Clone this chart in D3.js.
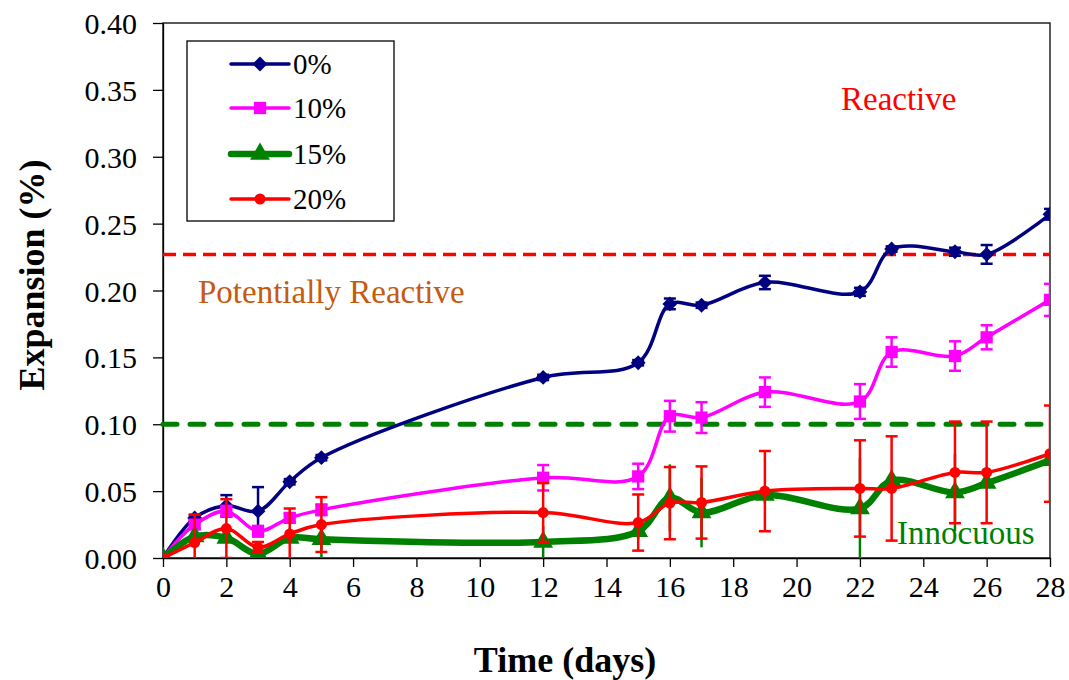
<!DOCTYPE html>
<html>
<head>
<meta charset="utf-8">
<script src="https://cdn.jsdelivr.net/npm/d3@7"></script>
<style>
  html, body { margin: 0; padding: 0; background: #fff; }
  svg { display: block; font-family: "Liberation Serif", "Times New Roman", serif; }
</style>
</head>
<body>
<svg id="chart" width="1069" height="680"></svg>
<script>
// Measurement ages (days)
const days = [0, 1, 2, 3, 4, 5, 12, 15, 16, 17, 19, 22, 23, 25, 26, 28];

// Mean expansion (%) per replacement level, with standard deviation
const exp0  = [0, 0.030, 0.039, 0.035, 0.057, 0.075, 0.135, 0.146, 0.190, 0.189, 0.206, 0.199, 0.231, 0.229, 0.227, 0.257];
const err0  = [0, 0.002, 0.008, 0.018, 0.002, 0.002, 0.002, 0.002, 0.004, 0.002, 0.005, 0.003, 0.002, 0.003, 0.007, 0.004];
const exp10 = [0, 0.025, 0.035, 0.020, 0.030, 0.036, 0.060, 0.061, 0.106, 0.105, 0.124, 0.117, 0.154, 0.151, 0.165, 0.193];
const err10 = [0, 0.003, 0.004, 0.004, 0.003, 0.004, 0.0095, 0.0095, 0.0115, 0.0115, 0.011, 0.013, 0.011, 0.011, 0.009, 0.012];
const exp15 = [0, 0.016, 0.015, 0.003, 0.015, 0.014, 0.012, 0.020, 0.045, 0.034, 0.047, 0.037, 0.058, 0.049, 0.056, 0.073];
const err15 = [0, 0.003, 0.004, 0.003, 0.003, 0.014, 0.012, 0.006, 0.025, 0.026, 0.006, 0.038, 0.004, 0.029, 0.004, 0.004];
const exp20 = [0, 0.0115, 0.022, 0.008, 0.018, 0.025, 0.034, 0.0265, 0.041, 0.0415, 0.050, 0.052, 0.052, 0.064, 0.064, 0.078];
const err20 = [0, 0.021, 0.022, 0.004, 0.019, 0.0205, 0.022, 0.021, 0.027, 0.027, 0.030, 0.036, 0.039, 0.038, 0.038, 0.036];

const seriesNames = ["0%", "10%", "15%", "20%"];
const xTicks = [0, 2, 4, 6, 8, 10, 12, 14, 16, 18, 20, 22, 24, 26, 28];
const yTicks = [0, 0.05, 0.10, 0.15, 0.20, 0.25, 0.30, 0.35, 0.40];

// Classification limits
const reactiveLimit = 0.227;
const innocuousLimit = 0.10;

const series = [
  { name: seriesNames[0], values: exp0,  errors: err0,  color: "#000080", width: 3.5, marker: "diamond",  size: 110, caps: true },
  { name: seriesNames[1], values: exp10, errors: err10, color: "#FF00FF", width: 3.5, marker: "square",   size: 150, caps: true },
  { name: seriesNames[2], values: exp15, errors: err15, color: "#008000", width: 6.5, marker: "triangle", size: 170, caps: false },
  { name: seriesNames[3], values: exp20, errors: err20, color: "#FF0000", width: 3.5, marker: "circle",   size: 95,  caps: true }
];

const svg = d3.select("#chart");
const plotL = 163, plotR = 1050, plotT = 23, plotB = 558;

const x = d3.scaleLinear().domain([0, 28]).range([plotL, plotR]);
const y = d3.scaleLinear().domain([0, 0.40]).range([plotB, plotT]);

svg.append("defs").append("clipPath").attr("id", "plotClip")
  .append("rect").attr("x", plotL).attr("y", plotT).attr("width", plotR - plotL).attr("height", plotB - plotT);

// Plot frame
svg.append("rect")
  .attr("x", plotL).attr("y", plotT).attr("width", plotR - plotL).attr("height", plotB - plotT)
  .attr("fill", "none").attr("stroke", "#000").attr("stroke-width", 1.3);

// Axes
const xAxis = svg.append("g").attr("transform", `translate(0,${plotB})`)
  .call(d3.axisBottom(x).tickValues(xTicks).tickFormat(d3.format("d")).tickSize(9).tickSizeOuter(0).tickPadding(9));
const yAxis = svg.append("g").attr("transform", `translate(${plotL},0)`)
  .call(d3.axisLeft(y).tickValues(yTicks).tickFormat(d3.format(".2f")).tickSize(10).tickSizeOuter(0).tickPadding(16));
[xAxis, yAxis].forEach(g => {
  g.select(".domain").attr("stroke", "#000").attr("stroke-width", 1.3);
  g.selectAll(".tick line").attr("stroke", "#000").attr("stroke-width", 1.3);
  g.selectAll(".tick text").attr("fill", "#000").style("font-size", "30px")
    .style("font-family", "'Liberation Serif', 'Times New Roman', serif");
});
yAxis.selectAll(".tick text").attr("dy", "0.35em");

// Axis titles
svg.append("text")
  .attr("x", 565).attr("y", 672).attr("text-anchor", "middle")
  .style("font-size", "36px").style("font-weight", "bold")
  .text("Time (days)");
svg.append("text")
  .attr("transform", "translate(44,275) rotate(-90)").attr("text-anchor", "middle")
  .style("font-size", "36px").style("font-weight", "bold")
  .text("Expansion (%)");

// Limit lines
svg.append("line")
  .attr("x1", plotL).attr("x2", plotR).attr("y1", y(reactiveLimit)).attr("y2", y(reactiveLimit))
  .attr("stroke", "#FF0000").attr("stroke-width", 3.5).attr("stroke-dasharray", "13,7");
svg.append("line")
  .attr("x1", plotL).attr("x2", plotR).attr("y1", y(innocuousLimit)).attr("y2", y(innocuousLimit))
  .attr("stroke", "#008000").attr("stroke-width", 5).attr("stroke-dasharray", "14,13")
  .attr("stroke-linecap", "round");

// Zone labels
svg.append("text").attr("x", 841).attr("y", 110).attr("fill", "#FF0000")
  .style("font-size", "33px").text("Reactive");
svg.append("text").attr("x", 198).attr("y", 303).attr("fill", "#C55A11")
  .style("font-size", "33px").text("Potentially Reactive");
svg.append("text").attr("x", 897).attr("y", 544).attr("fill", "#008000")
  .style("font-size", "33px").text("Innocuous");

// Diamonds are drawn as squares turned 45 degrees
const symbolType = {
  diamond: d3.symbolSquare,
  square: d3.symbolSquare,
  triangle: d3.symbolTriangle,
  circle: d3.symbolCircle
};
const markerRotation = { diamond: 45, square: 0, triangle: 0, circle: 0 };

const plot = svg.append("g").attr("clip-path", "url(#plotClip)");
const line = d3.line().x(d => x(d.day)).y(d => y(d.v)).curve(d3.curveCatmullRom.alpha(0.5));

series.forEach(s => {
  const pts = days.map((day, i) => ({ day: day, v: s.values[i], e: s.errors[i] }));
  const g = plot.append("g");
  const capW = 6;
  // error bars
  const eb = g.selectAll("g.err").data(pts.filter(p => p.e > 0)).join("g");
  eb.append("line")
    .attr("x1", p => x(p.day)).attr("x2", p => x(p.day))
    .attr("y1", p => y(p.v + p.e)).attr("y2", p => y(p.v - p.e))
    .attr("stroke", s.color).attr("stroke-width", 2.5);
  if (s.caps) {
    [1, -1].forEach(sign => {
      eb.append("line")
        .attr("x1", p => x(p.day) - capW).attr("x2", p => x(p.day) + capW)
        .attr("y1", p => y(p.v + sign * p.e)).attr("y2", p => y(p.v + sign * p.e))
        .attr("stroke", s.color).attr("stroke-width", 2.5);
    });
  }
  // smoothed line
  g.append("path").datum(pts).attr("d", line)
    .attr("fill", "none").attr("stroke", s.color).attr("stroke-width", s.width)
    .attr("stroke-linejoin", "round");
  // markers
  g.selectAll("path.mk").data(pts).join("path")
    .attr("transform", p => `translate(${x(p.day)},${y(p.v)}) rotate(${markerRotation[s.marker]})`)
    .attr("d", d3.symbol().type(symbolType[s.marker]).size(s.size))
    .attr("fill", s.color);
});

// Legend
const legend = svg.append("g");
legend.append("rect").attr("x", 187).attr("y", 41).attr("width", 207).attr("height", 180)
  .attr("fill", "#fff").attr("stroke", "#000").attr("stroke-width", 1.3);
const legendY = [64, 108, 154, 199];
series.forEach((s, i) => {
  const ly = legendY[i];
  legend.append("line").attr("x1", 231).attr("x2", 289).attr("y1", ly).attr("y2", ly)
    .attr("stroke", s.color).attr("stroke-width", s.width).attr("stroke-linecap", "round");
  legend.append("path").attr("transform", `translate(260,${ly}) rotate(${markerRotation[s.marker]})`)
    .attr("d", d3.symbol().type(symbolType[s.marker]).size(s.size)).attr("fill", s.color);
  legend.append("text").attr("x", 293).attr("y", ly + 10)
    .style("font-size", "29px").attr("fill", "#000").text(s.name);
});
</script>
</body>
</html>
